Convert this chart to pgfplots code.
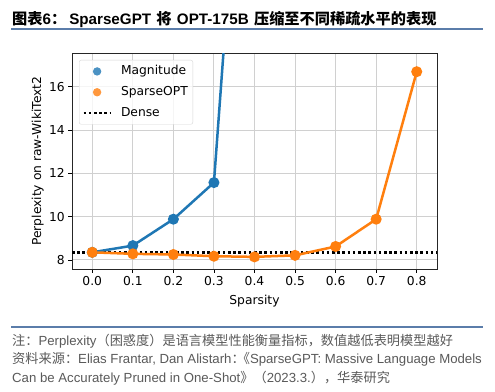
\documentclass[border=0pt]{standalone}
\usepackage{fontspec}
\setmainfont{DejaVu Sans}
\newfontfamily\cjk{Noto Sans CJK SC}
\newfontfamily\arial{Liberation Sans}
\usepackage{pgfplots}
\pgfplotsset{compat=1.18}
\definecolor{tabblue}{HTML}{1F77B4}
\definecolor{taborange}{HTML}{FF7F0E}
\definecolor{rulecol}{HTML}{5B7DAA}
\definecolor{footgray}{HTML}{5A5A5A}
\definecolor{gridgray}{HTML}{D0D0D0}
\definecolor{leggray}{HTML}{D6D6D6}

\begin{document}
\begin{tikzpicture}
\useasboundingbox (0pt,0pt) rectangle (495pt,391pt);
\fill[white] (0pt,0pt) rectangle (495pt,391pt);
% title
\node[anchor=base west, inner sep=0] at (12pt,366pt) {\fontsize{15.2}{17}\selectfont\bfseries{\cjk 图表}{\arial 6}{\cjk ：}\hspace{3pt}{\arial SparseGPT} {\cjk 将} {\arial OPT-175B} {\cjk 压缩至不同稀疏水平的表现}};
\draw[rulecol, line width=2pt] (11pt,361.5pt) -- (483pt,361.5pt);

\begin{axis}[
  at={(72pt,122pt)}, anchor=south west,
  width=365pt, height=215.7pt, scale only axis,
  xmin=-0.05, xmax=0.85, ymin=7.58, ymax=17.54,
  xtick={0,0.1,0.2,0.3,0.4,0.5,0.6,0.7,0.8},
  ytick={8,10,12,14,16},
  xticklabel style={/pgf/number format/.cd, fixed, fixed zerofill, precision=1},
  /pgf/number format/assume math mode=true,
  tick align=outside, tick pos=left, major tick length=3.8pt,
  tick style={black, line width=0.8pt},
  grid=major, grid style={gridgray, line width=0.9pt},
  axis line style={black!85, line width=0.9pt},
  ticklabel style={font=\fontsize{12.3}{14}\selectfont},
  label style={font=\fontsize{12.3}{14}\selectfont},
  xlabel={Sparsity},
  ylabel={Perplexity on raw-WikiText2},
  xlabel style={at={(axis description cs:0.5,-0.147)}, anchor=center},
  ylabel style={at={(axis description cs:-0.094,0.5)}, anchor=center},
  legend style={at={(axis description cs:0.0192,0.969)}, anchor=north west,
    draw=leggray, rounded corners=2pt, fill=white, fill opacity=0.8, text opacity=1,
    font=\fontsize{12.3}{14}\selectfont, inner xsep=3pt, inner ysep=3.5pt,
    row sep=5.3pt, column sep=7pt,
    nodes={inner sep=2pt, text height=9pt, text depth=2.5pt}},
  legend cell align=left,
  clip=true,
]
\addplot[black, line width=2.8pt, dash pattern=on 2.6pt off 2.6pt, forget plot] coordinates {(-0.05,8.35) (0.85,8.35)};
\addplot[tabblue, line width=2.5pt, mark=*, mark size=4.2pt, mark options={solid}, forget plot] coordinates {(0.0,8.35) (0.1,8.66) (0.2,9.88) (0.3,11.57) (0.4,37.1)};
\addplot[taborange, line width=2.5pt, mark=*, mark size=4.2pt, mark options={solid}, forget plot] coordinates {(0.0,8.35) (0.1,8.28) (0.2,8.25) (0.3,8.17) (0.4,8.14) (0.5,8.21) (0.6,8.62) (0.7,9.88) (0.8,16.69)};
\addlegendimage{legend image code/.code={\fill[tabblue, draw=none] (13.5pt,0pt) circle (4.2pt); \path[draw=none, fill=none] (0pt,0pt) -- (27pt,0pt);}}
\addlegendentry{Magnitude}
\addlegendimage{legend image code/.code={\fill[taborange, draw=none] (13.5pt,0pt) circle (4.2pt); \path[draw=none, fill=none] (0pt,0pt) -- (27pt,0pt);}}
\addlegendentry{SparseOPT}
\addlegendimage{legend image code/.code={\draw[black, line width=2.8pt, dash pattern=on 2.6pt off 2.6pt] (0pt,0pt) -- (27pt,0pt);}}
\addlegendentry{Dense}
\end{axis}

% footer
\draw[rulecol, line width=2pt] (11pt,64pt) -- (483pt,64pt);
\begin{scope}[every node/.style={anchor=base west, inner sep=0, text=footgray, font=\fontsize{13.2}{15}\selectfont\arial}]
\node at (12pt,46pt) {{\cjk 注：}Perplexity{\cjk （困惑度）是语言模型性能衡量指标，数值越低表明模型越好}};
\node at (12pt,27.5pt) {{\cjk 资料来源：}Elias Frantar, Dan Alistarh{\cjk ：}\hspace{-0.6em}{\cjk 《}SparseGPT: Massive Language Models};
\node at (12pt,9pt) {Can be Accurately Pruned in One-Shot{\cjk 》（}2023.3.{\cjk ），华泰研究}};
\end{scope}
\end{tikzpicture}
\end{document}
